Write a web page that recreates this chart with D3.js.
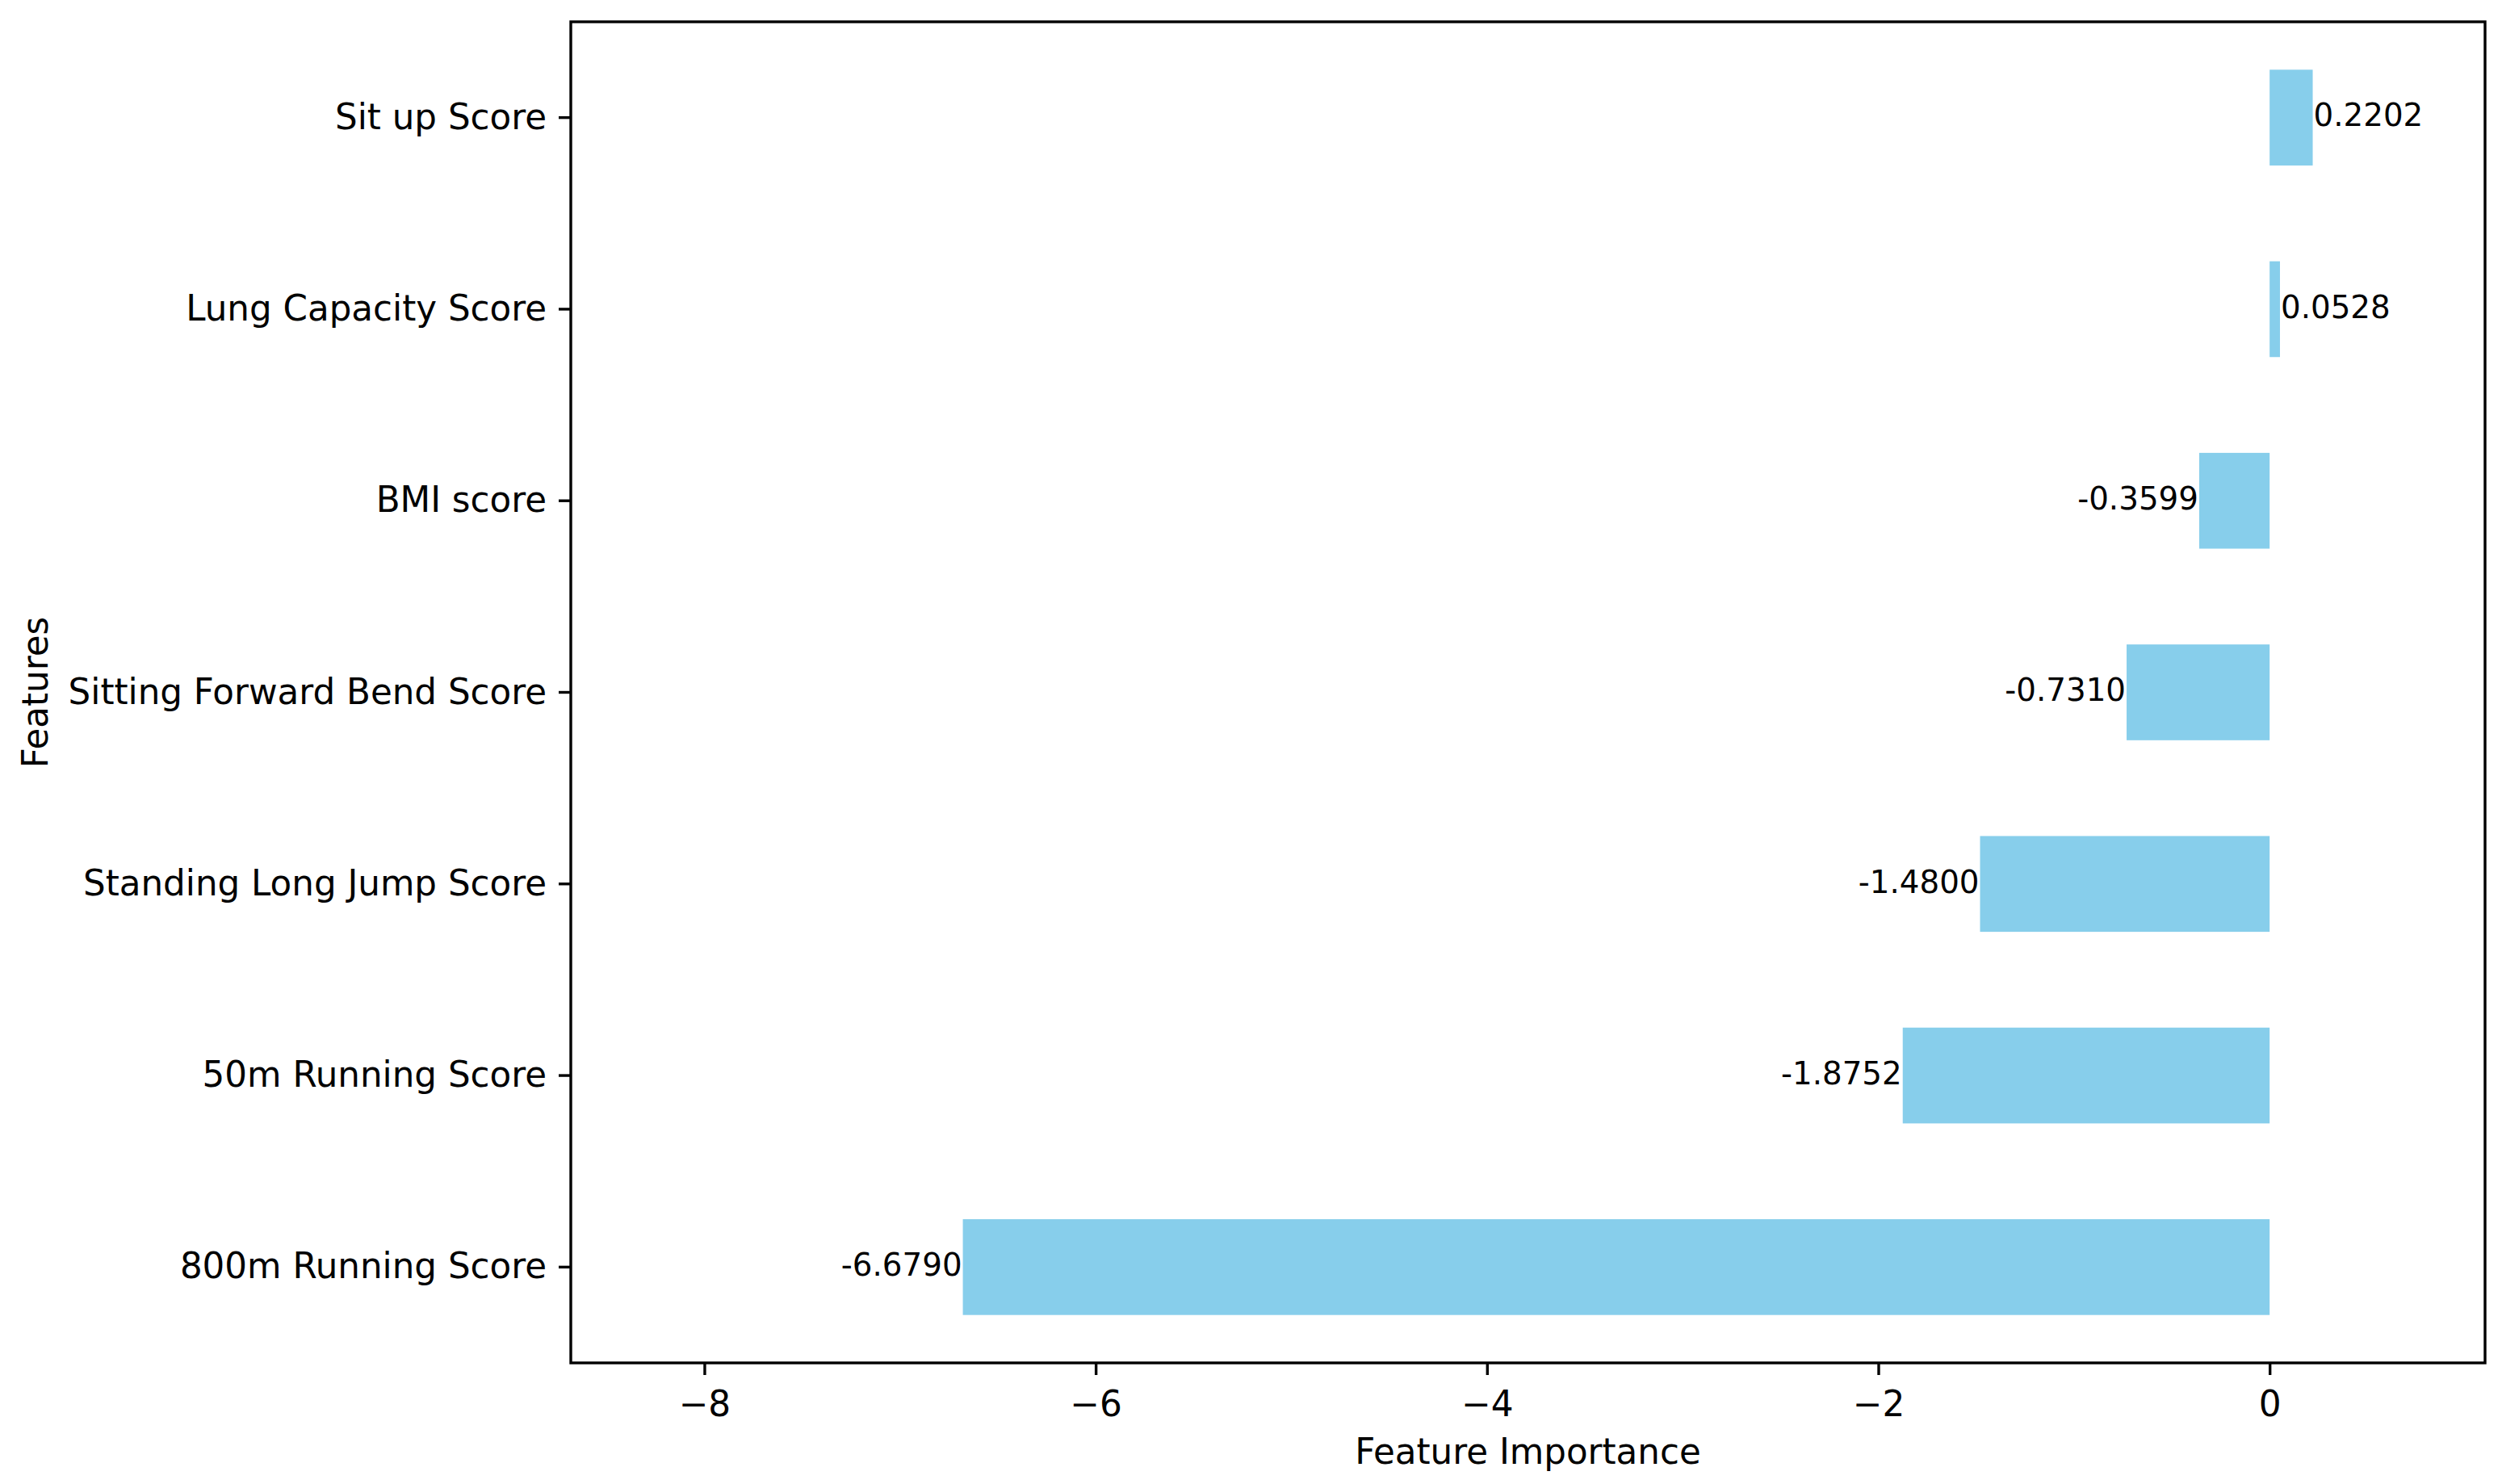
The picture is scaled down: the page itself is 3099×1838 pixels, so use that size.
<!DOCTYPE html>
<html>
<head>
<meta charset="utf-8">
<script src="https://cdn.jsdelivr.net/npm/d3@7"></script>
<style>
  html, body { margin: 0; padding: 0; background: #fff; }
  svg { display: block; }
  text { font-family: "DejaVu Sans", sans-serif; fill: #000; }
</style>
</head>
<body>
<svg id="chart" width="3099" height="1838"></svg>
<script>
// ---- data (bottom to top, as drawn) ----
const features = [
  "800m Running Score",
  "50m Running Score",
  "Standing Long Jump Score",
  "Sitting Forward Bend Score",
  "BMI score",
  "Lung Capacity Score",
  "Sit up Score"
];
const importance = [-6.6790, -1.8752, -1.4800, -0.7310, -0.3599, 0.0528, 0.2202];
const xTicks = [-8, -6, -4, -2, 0];
const xLabel = "Feature Importance";
const yLabel = "Features";

// ---- layout ----
const W = 3099, H = 1838;
const margin = { left: 707, right: 3099 - 3078, top: 27, bottom: 1838 - 1688 };
const svg = d3.select("#chart");
const pw = W - margin.left - margin.right;
const ph = H - margin.top - margin.bottom;
const g = svg.append("g").attr("transform", `translate(${margin.left},${margin.top})`);

const x = d3.scaleLinear()
  .domain([d3.min(importance) * 1.3, d3.max(importance) * 5])
  .range([0, pw]);

// categories listed top to bottom for the band scale
const yOrder = features.slice().reverse();
const y = d3.scaleBand().domain(yOrder).range([0, ph])
  .paddingInner(0.5).paddingOuter(0.25);

const data = features.map((f, i) => ({ f, v: importance[i] }));

// bars
g.selectAll("rect.bar").data(data).enter().append("rect")
  .attr("class", "bar")
  .attr("x", d => x(Math.min(0, d.v)))
  .attr("width", d => Math.abs(x(d.v) - x(0)))
  .attr("y", d => y(d.f))
  .attr("height", y.bandwidth())
  .attr("fill", "#87CEEB");

// value labels
const fmt = v => d3.format(".4f")(v).replace("\u2212", "-");
g.selectAll("text.val").data(data).enter().append("text")
  .attr("class", "val")
  .attr("x", d => x(d.v) + (d.v >= 0 ? 1 : -1))
  .attr("y", d => y(d.f) + y.bandwidth() / 2 + 10.8)
  .attr("text-anchor", d => d.v >= 0 ? "start" : "end")
  .attr("font-size", 38.8)
  .text(d => fmt(d.v));

// axes
const lw = 3.4;
const xAxis = d3.axisBottom(x).tickValues(xTicks)
  .tickFormat(d => d3.format("d")(d).replace("-", "\u2212"))
  .tickSize(15).tickPadding(20);
const gx = g.append("g").attr("transform", `translate(0,${ph})`).call(xAxis);
gx.select(".domain").remove();
gx.selectAll(".tick line").attr("stroke", "#000").attr("stroke-width", lw);
gx.selectAll(".tick text").attr("font-size", 43.8).attr("font-family", "DejaVu Sans").attr("fill", "#000");

const yAxis = d3.axisLeft(y).tickSize(15).tickPadding(15);
const gy = g.append("g").call(yAxis);
gy.select(".domain").remove();
gy.selectAll(".tick line").attr("stroke", "#000").attr("stroke-width", lw);
gy.selectAll(".tick text").attr("font-size", 43.6).attr("font-family", "DejaVu Sans").attr("fill", "#000")
  .attr("dy", null).attr("y", 0).attr("dominant-baseline", "auto")
  .attr("transform", "translate(0,14)");

// frame (all four spines)
g.append("rect").attr("x", 0).attr("y", 0).attr("width", pw).attr("height", ph)
  .attr("fill", "none").attr("stroke", "#000").attr("stroke-width", lw);

// axis labels
svg.append("text")
  .attr("x", margin.left + pw / 2).attr("y", 1813)
  .attr("text-anchor", "middle").attr("font-size", 43.6)
  .text(xLabel);
svg.append("text")
  .attr("transform", `translate(59,${margin.top + ph / 2}) rotate(-90)`)
  .attr("text-anchor", "middle").attr("font-size", 43.6)
  .text(yLabel);
</script>
</body>
</html>
